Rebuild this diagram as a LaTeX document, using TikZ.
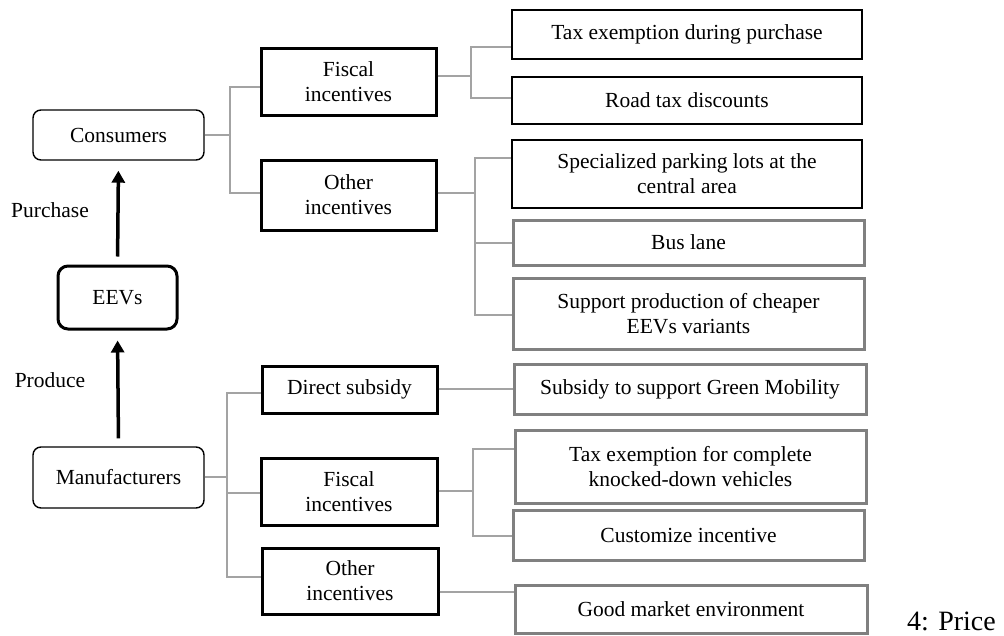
\documentclass[tikz,border=0pt]{standalone}
\usepackage{fontspec}
\setmainfont{Liberation Serif}
\usetikzlibrary{arrows.meta}
\definecolor{boxgray}{HTML}{808080}
\definecolor{linegray}{HTML}{A3A3A3}
\begin{document}
\begin{tikzpicture}[x=1pt,y=-1pt,
  every node/.style={font=\fontsize{21.5}{25}\selectfont, align=center, inner sep=0pt},
  actor/.style={draw=black, line width=1.4pt, rounded corners=8pt},
  eevbox/.style={draw=black, line width=3pt, rounded corners=10pt},
  midbox/.style={draw=black, line width=3pt},
  blackleaf/.style={draw=black, line width=1.8pt, minimum width=350pt},
  grayleaf/.style={draw=boxgray, line width=3pt, minimum width=351pt},
  conn/.style={draw=linegray, line width=1.2pt},
  flow/.style={draw=black, line width=3.5pt, -{Triangle[width=13pt,length=12pt]}, shorten >=10pt, shorten <=8pt}
]
\useasboundingbox (0,0) rectangle (1004,635);

% left column
\node[actor, minimum width=171pt, minimum height=50pt] (cons) at (118.5,135) {Consumers};
\node[eevbox, minimum width=119pt, minimum height=63pt] (eev) at (117.5,297.5) {EEVs};
\node[actor, minimum width=171pt, minimum height=61pt] (manu) at (118.5,477.5) {Manufacturers};
\node (lpur) at (50,210) {Purchase};
\node (lpro) at (50,380) {Produce};

\draw[flow] (manu.north) -- (eev.south);
\draw[flow] (eev.north) -- (cons.south);

% middle column
\node[midbox, minimum width=175pt, minimum height=67pt] (f1) at (348.5,81.5) {Fiscal\\incentives};
\node[midbox, minimum width=175pt, minimum height=70pt] (o1) at (348.5,195) {Other\\incentives};
\node[midbox, minimum width=175pt, minimum height=47pt] (ds) at (349.5,389.5) {Direct subsidy};
\node[midbox, minimum width=176pt, minimum height=67pt] (f2) at (349,491.5) {Fiscal\\incentives};
\node[midbox, minimum width=176pt, minimum height=66pt] (o2) at (350,581) {Other\\incentives};

% right column
\node[blackleaf, minimum height=49pt] (r1) at (687,34.5) {Tax exemption during purchase};
\node[blackleaf, minimum height=47pt] (r2) at (687,100.5) {Road tax discounts};
\node[blackleaf, minimum height=68pt] (r3) at (687,174) {Specialized parking lots at the\\central area};
\node[grayleaf, minimum height=45pt] (r4) at (688.5,242.5) {Bus lane};
\node[grayleaf, minimum height=71pt] (r5) at (688.5,313.5) {Support production of cheaper\\EEVs variants};
\node[grayleaf, minimum width=352pt, minimum height=50pt] (r6) at (690,389) {Subsidy to support Green Mobility};
\node[grayleaf, minimum height=73pt] (r7) at (690.5,466.5) {Tax exemption for complete\\knocked-down vehicles};
\node[grayleaf, minimum height=50pt] (r8) at (688.5,535) {Customize incentive};
\node[grayleaf, minimum width=352pt, minimum height=48pt] (r9) at (691,609) {Good market environment};

\node[font=\fontsize{28}{32}\selectfont, anchor=base west] (cap) at (907,630) {4: Price};

% connectors
\coordinate (jc) at (230,135);
\draw[conn] (cons.east) -- (jc);
\draw[conn] (f1.west |- 0,87) -| (jc) |- (o1.west |- 0,193);

\coordinate (jf1) at (471,76);
\draw[conn] (f1.east |- jf1) -- (jf1);
\draw[conn] (r1.west |- 0,47) -| (jf1) |- (r2.west |- 0,98);

\coordinate (jo1) at (475,193);
\draw[conn] (o1.east |- jo1) -- (jo1);
\draw[conn] (r3.west |- 0,158) -| (jo1) |- (r5.west |- 0,315);
\draw[conn] (jo1 |- 0,243) -- (r4.west |- 0,243);

\coordinate (jm) at (227,477);
\draw[conn] (manu.east |- jm) -- (jm);
\draw[conn] (ds.west |- 0,393) -| (jm) |- (o2.west |- 0,577);
\draw[conn] (jm |- 0,493) -- (f2.west |- 0,493);

\draw[conn] (ds.east |- 0,389) -- (r6.west |- 0,389);

\coordinate (jf2) at (473,491);
\draw[conn] (f2.east |- jf2) -- (jf2);
\draw[conn] (r7.west |- 0,449) -| (jf2) |- (r8.west |- 0,536);

\draw[conn] (o2.east |- 0,592) -- (r9.west |- 0,592);
\end{tikzpicture}
\end{document}
